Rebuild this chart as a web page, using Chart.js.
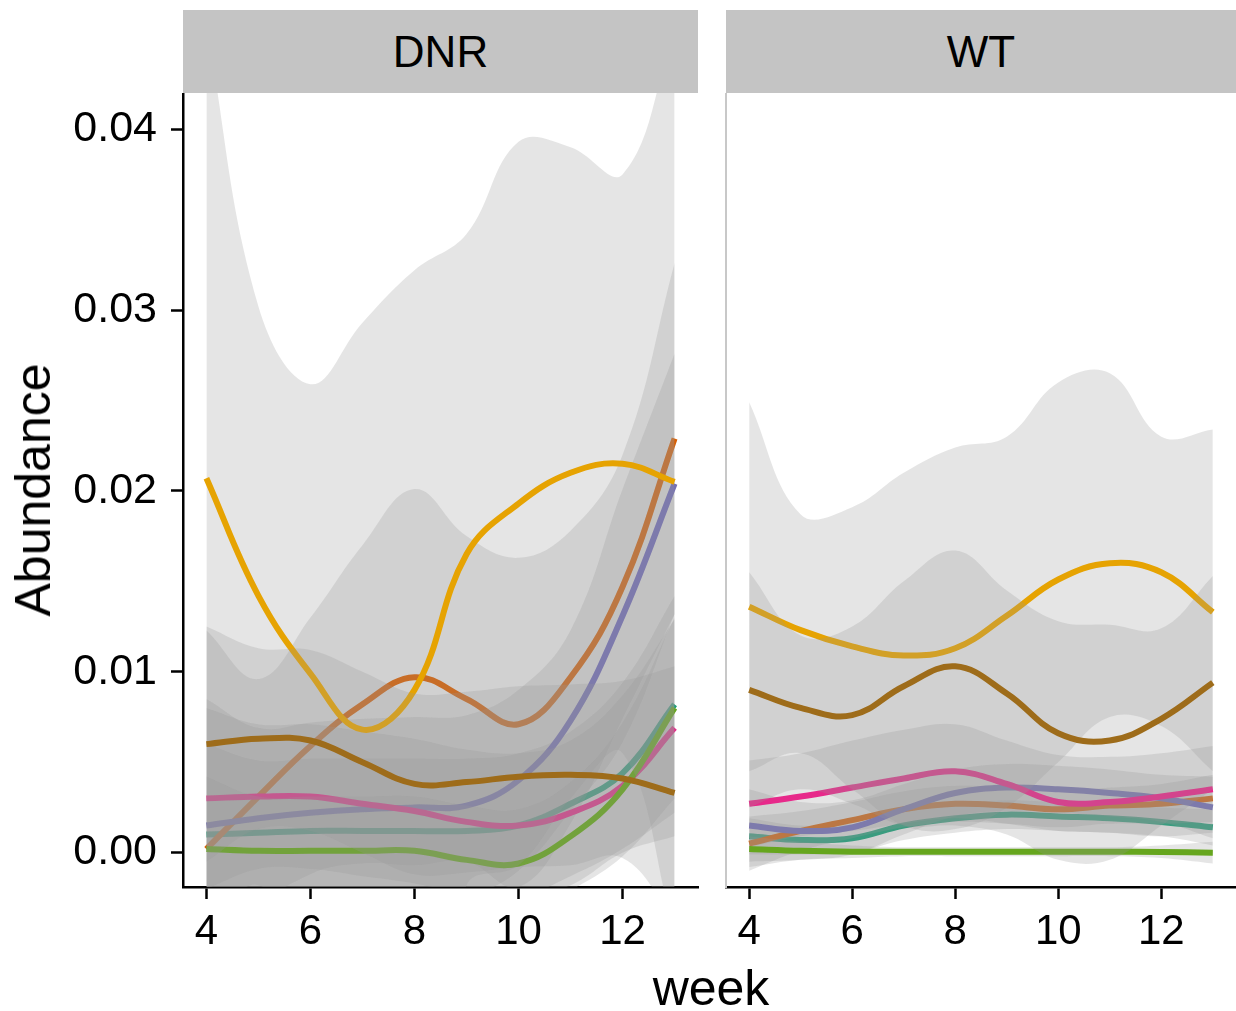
<!DOCTYPE html>
<html>
<head>
<meta charset="utf-8">
<script src="https://cdn.jsdelivr.net/npm/chart.js@4.4.0/dist/chart.umd.min.js"></script>
<style>
  body { margin: 0; background: #fff; width: 1236px; height: 1011px; position: relative; overflow: hidden;
         font-family: "Liberation Sans", Arial, sans-serif; }
  .strip { position: absolute; top: 10px; height: 83px; background: #C4C4C4; color: #000; font-size: 44px;
           display: flex; align-items: center; justify-content: center; }
  canvas { position: absolute; }
  .ytitle { position: absolute; left: 33px; top: 490px; font-size: 50px; transform: translate(-50%, -50%) rotate(-90deg); white-space: nowrap; }
  .xtitle { position: absolute; left: 711px; top: 988px; font-size: 50px; transform: translate(-50%, -50%); }
</style>
</head>
<body>
<div class="strip" style="left:183px;width:515px">DNR</div>
<div class="strip" style="left:726px;width:510px">WT</div>
<canvas id="dnr" width="700" height="874" style="left:0;top:93px;width:700px;height:874px"></canvas>
<canvas id="wt" width="536" height="874" style="left:700px;top:93px;width:536px;height:874px"></canvas>
<div class="ytitle">Abundance</div>
<div class="xtitle">week</div>
<script>
const weeks = [4, 5, 6, 7, 8, 9, 10, 11, 12, 13];
const xTicks = [4, 6, 8, 10, 12];
const yTicks = [0, 0.01, 0.02, 0.03, 0.04];
const colors = ['#1B9E77', '#D95F02', '#7570B3', '#E7298A', '#66A61E', '#E6A302', '#9E6C1A'];

// DNR panel: smooth lines and their bands
const dnrTeal     = [0.0010, 0.0011, 0.0012, 0.0012, 0.0012, 0.0012, 0.0015, 0.0027, 0.0044, 0.0082];
const dnrTealLo   = [-0.0040, -0.0029, -0.0028, -0.0028, -0.0028, -0.0028, -0.0025, -0.0013, 0.0002, 0.0022];
const dnrTealHi   = [0.0060, 0.0051, 0.0052, 0.0052, 0.0052, 0.0052, 0.0055, 0.0067, 0.0094, 0.0142];
const dnrOrange   = [0.0002, 0.0031, 0.0059, 0.0082, 0.0097, 0.0085, 0.0071, 0.0097, 0.0147, 0.0229];
const dnrOrangeLo = [-0.0119, -0.0034, -0.0012, -0.0006, -0.0007, -0.0005, -0.0019, 0.0016, 0.0074, 0.0132];
const dnrOrangeHi = [0.0123, 0.0096, 0.0130, 0.0170, 0.0201, 0.0175, 0.0163, 0.0178, 0.0220, 0.0326];
const dnrPurple   = [0.0015, 0.0019, 0.0022, 0.0024, 0.0025, 0.0026, 0.0040, 0.0073, 0.0131, 0.0204];
const dnrPurpleLo = [-0.0055, -0.0031, -0.0028, -0.0026, -0.0025, -0.0024, -0.0010, 0.0023, 0.0061, 0.0132];
const dnrPurpleHi = [0.0085, 0.0069, 0.0072, 0.0074, 0.0075, 0.0076, 0.0090, 0.0123, 0.0201, 0.0276];
const dnrPink     = [0.0030, 0.0031, 0.0031, 0.0027, 0.0023, 0.0017, 0.0015, 0.0022, 0.0037, 0.0069];
const dnrPinkLo   = [-0.0020, -0.0009, -0.0009, -0.0013, -0.0017, -0.0023, -0.0025, -0.0018, 0.0000, 0.0009];
const dnrPinkHi   = [0.0080, 0.0071, 0.0071, 0.0067, 0.0063, 0.0057, 0.0055, 0.0062, 0.0087, 0.0129];
const dnrGreen    = [0.0002, 0.0001, 0.0001, 0.0001, 0.0001, -0.0004, -0.0006, 0.0009, 0.0035, 0.0080];
const dnrGreenLo  = [-0.0038, -0.0029, -0.0029, -0.0029, -0.0029, -0.0034, -0.0036, -0.0021, -0.0002, 0.0030];
const dnrGreenHi  = [0.0042, 0.0031, 0.0031, 0.0031, 0.0031, 0.0026, 0.0024, 0.0039, 0.0072, 0.0130];
const dnrYellow   = [0.0207, 0.0142, 0.0099, 0.0068, 0.0090, 0.0165, 0.0193, 0.0210, 0.0215, 0.0205];
const dnrYellowLo = [-0.0043, -0.0018, -0.0061, -0.0147, -0.0138, -0.0018, -0.0007, 0.0030, 0.0055, -0.0045];
const dnrYellowHi = [0.0457, 0.0302, 0.0259, 0.0293, 0.0322, 0.0342, 0.0393, 0.0390, 0.0375, 0.0455];
const dnrBrown    = [0.0060, 0.0063, 0.0062, 0.0050, 0.0038, 0.0039, 0.0042, 0.0043, 0.0041, 0.0033];
const dnrBrownLo  = [-0.0005, 0.0013, 0.0012, 0.0000, -0.0012, -0.0011, -0.0008, -0.0007, -0.0003, -0.0037];
const dnrBrownHi  = [0.0125, 0.0113, 0.0112, 0.0100, 0.0088, 0.0089, 0.0092, 0.0093, 0.0095, 0.0103];

// WT panel
const wtTeal     = [0.0009, 0.0007, 0.0008, 0.0015, 0.0019, 0.0021, 0.0020, 0.0019, 0.0017, 0.0014];
const wtTealLo   = [-0.0001, -0.0001, 0.0000, 0.0007, 0.0011, 0.0013, 0.0012, 0.0011, 0.0009, 0.0004];
const wtTealHi   = [0.0019, 0.0015, 0.0016, 0.0023, 0.0027, 0.0029, 0.0028, 0.0027, 0.0025, 0.0024];
const wtOrange   = [0.0005, 0.0012, 0.0018, 0.0024, 0.0027, 0.0026, 0.0024, 0.0026, 0.0027, 0.0030];
const wtOrangeLo = [-0.0010, 0.0001, 0.0008, 0.0014, 0.0017, 0.0016, 0.0014, 0.0016, 0.0016, 0.0017];
const wtOrangeHi = [0.0020, 0.0023, 0.0028, 0.0034, 0.0037, 0.0036, 0.0034, 0.0036, 0.0038, 0.0043];
const wtPurple   = [0.0015, 0.0012, 0.0014, 0.0024, 0.0033, 0.0036, 0.0035, 0.0033, 0.0030, 0.0025];
const wtPurpleLo = [-0.0005, -0.0004, -0.0001, 0.0010, 0.0020, 0.0023, 0.0022, 0.0020, 0.0017, 0.0008];
const wtPurpleHi = [0.0035, 0.0028, 0.0029, 0.0038, 0.0046, 0.0049, 0.0048, 0.0046, 0.0043, 0.0042];
const wtPink     = [0.0027, 0.0031, 0.0036, 0.0041, 0.0045, 0.0038, 0.0028, 0.0028, 0.0031, 0.0035];
const wtPinkLo   = [0.0003, 0.0009, 0.0012, 0.0016, 0.0019, 0.0016, 0.0012, 0.0011, 0.0009, 0.0011];
const wtPinkHi   = [0.0051, 0.0055, 0.0062, 0.0068, 0.0071, 0.0062, 0.0054, 0.0053, 0.0055, 0.0059];
const wtGreen    = [0.0002, 0.0001, 0.00005, 0.00005, 0.00005, 0.00005, 0.00005, 0.00005, 0.00003, 0.0000];
const wtGreenLo  = [-0.0008, -0.0004, -0.0003, -0.0002, -0.0002, -0.0002, -0.0002, -0.0002, -0.0003, -0.0006];
const wtGreenHi  = [0.0009, 0.0006, 0.0004, 0.0003, 0.0003, 0.0003, 0.0003, 0.0003, 0.0004, 0.0006];
const wtYellow   = [0.0136, 0.0123, 0.0114, 0.0109, 0.0113, 0.0131, 0.0151, 0.0160, 0.0155, 0.0133];
const wtYellowLo = [0.0045, 0.0055, 0.0035, 0.0015, 0.0013, 0.0025, 0.0050, 0.0075, 0.0070, 0.0045];
const wtYellowHi = [0.0249, 0.0187, 0.0191, 0.0210, 0.0224, 0.0230, 0.0260, 0.0265, 0.0230, 0.0234];
const wtBrown    = [0.0090, 0.0080, 0.0076, 0.0092, 0.0103, 0.0088, 0.0066, 0.0062, 0.0074, 0.0094];
const wtBrownLo  = [0.0025, 0.0035, 0.0027, 0.0015, 0.0015, 0.0010, -0.0004, -0.0004, 0.0015, 0.0035];
const wtBrownHi  = [0.0155, 0.0120, 0.0125, 0.0150, 0.0167, 0.0145, 0.0128, 0.0126, 0.0124, 0.0153];

const FONT = '"Liberation Sans", Arial, sans-serif';
const RIBBON = 'rgba(153,153,153,0.25)';

const pts = arr => arr.map((v, i) => ({ x: weeks[i], y: v }));

// ribbon then line for each group, in draw order (later groups cover earlier lines)
function panelDatasets(means, los, his) {
  const ds = [];
  let order = 1000;
  for (let i = 0; i < means.length; i++) {
    ds.push({ data: pts(his[i]), fill: '+1', backgroundColor: RIBBON, borderColor: 'rgba(0,0,0,0)', borderWidth: 0, order: order-- });
    ds.push({ data: pts(los[i]), fill: false, borderColor: 'rgba(0,0,0,0)', borderWidth: 0, order: order-- });
    ds.push({ data: pts(means[i]), fill: false, borderColor: colors[i], borderWidth: 6, order: order-- });
  }
  return ds;
}

function makeChart(id, datasets, isLeft) {
  return new Chart(document.getElementById(id), {
    type: 'line',
    data: { datasets },
    options: {
      responsive: false,
      devicePixelRatio: 1,
      animation: false,
      layout: { padding: { left: 0, right: isLeft ? 2 : 0, top: 0, bottom: 0 } },
      elements: { point: { radius: 0 }, line: { tension: 0.4, capBezierPoints: false } },
      plugins: { legend: { display: false }, tooltip: { enabled: false } },
      scales: {
        x: {
          type: 'linear', min: 3.55, max: 13.45,
          afterBuildTicks: s => { s.ticks = xTicks.map(v => ({ value: v })); },
          afterFit: s => { s.height = 80; s.paddingLeft = 0; s.paddingRight = 0; },
          ticks: { font: { size: 42, family: FONT }, color: '#000', padding: 8, maxRotation: 0, autoSkip: false },
          grid: { drawOnChartArea: false, drawTicks: true, tickLength: 12, tickWidth: 2.5, tickColor: '#000' },
          border: { color: '#000', width: 2.5 }
        },
        y: {
          min: -0.0019, max: 0.042,
          afterBuildTicks: s => { s.ticks = yTicks.map(v => ({ value: v })); },
          afterFit: s => { s.width = isLeft ? 183 : 26; s.paddingTop = 0; s.paddingBottom = 0; },
          ticks: { display: isLeft, font: { size: 43, family: FONT }, color: '#000', padding: 14,
                   callback: v => v.toFixed(2) },
          grid: { drawOnChartArea: false, drawTicks: isLeft, tickLength: 12, tickWidth: 2.5, tickColor: '#000' },
          border: isLeft ? { color: '#000', width: 2.5 } : { color: '#C8C8C8', width: 2 }
        }
      }
    }
  });
}

makeChart('dnr', panelDatasets(
  [dnrTeal, dnrOrange, dnrPurple, dnrPink, dnrGreen, dnrYellow, dnrBrown],
  [dnrTealLo, dnrOrangeLo, dnrPurpleLo, dnrPinkLo, dnrGreenLo, dnrYellowLo, dnrBrownLo],
  [dnrTealHi, dnrOrangeHi, dnrPurpleHi, dnrPinkHi, dnrGreenHi, dnrYellowHi, dnrBrownHi]), true);

makeChart('wt', panelDatasets(
  [wtTeal, wtOrange, wtPurple, wtPink, wtGreen, wtYellow, wtBrown],
  [wtTealLo, wtOrangeLo, wtPurpleLo, wtPinkLo, wtGreenLo, wtYellowLo, wtBrownLo],
  [wtTealHi, wtOrangeHi, wtPurpleHi, wtPinkHi, wtGreenHi, wtYellowHi, wtBrownHi]), false);
</script>
</body>
</html>
